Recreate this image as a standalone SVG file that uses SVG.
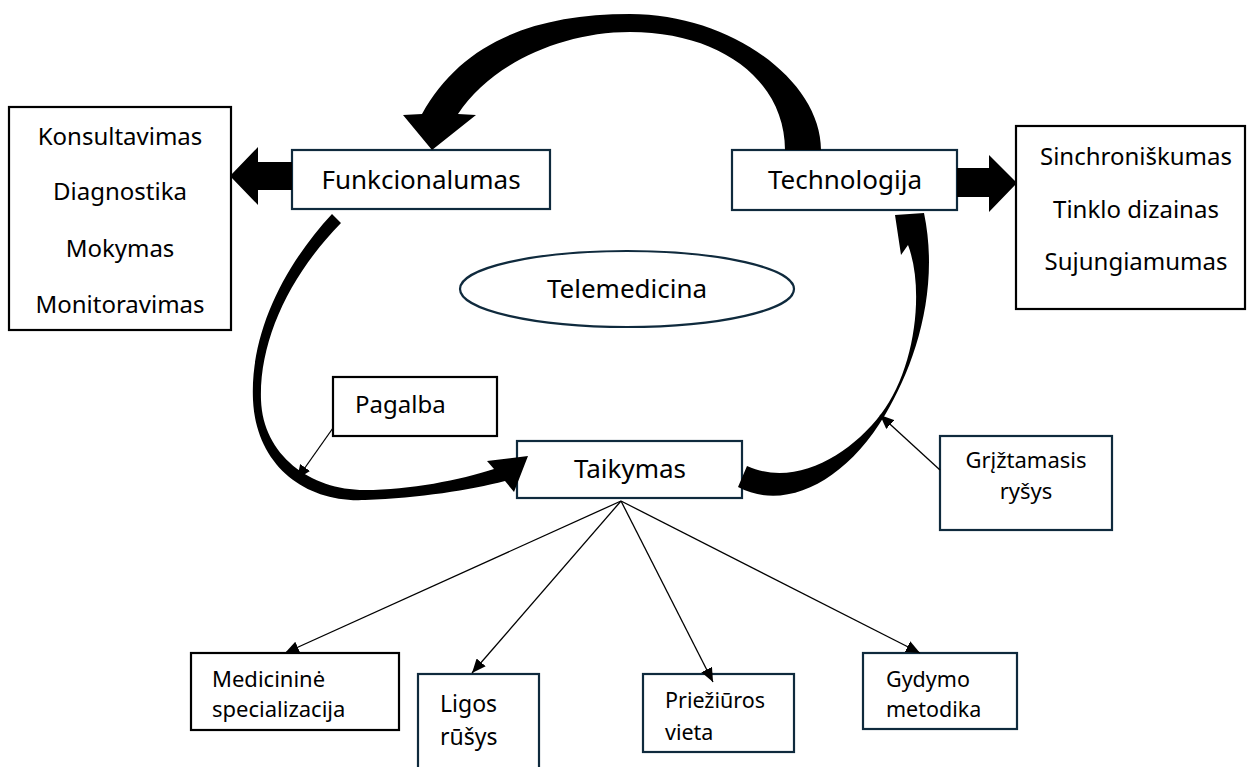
<svg xmlns="http://www.w3.org/2000/svg" width="1251" height="767" viewBox="0 0 1251 767">
<defs>
<style>
.t{font-family:"Noto Sans","Open Sans","Liberation Sans",sans-serif;fill:#000;}
.big{font-size:26px;}
.lst{font-size:24px;text-anchor:middle;}
.nb{fill:#fff;stroke:#0f2a3d;stroke-width:2.2;}
.kb{fill:#fff;stroke:#000;stroke-width:2.2;}
.thin{fill:none;stroke:#000;stroke-width:1.3;marker-end:url(#ah);}
.blk{fill:#000;stroke:none;}
</style>
<marker id="ah" viewBox="0 0 14 12" refX="14" refY="6" markerWidth="14" markerHeight="12" markerUnits="userSpaceOnUse" orient="auto">
<path d="M0,0 L14,6 L0,12 Z" fill="#000"/>
</marker>
</defs>
<rect width="1251" height="767" fill="#fff"/>

<g id="node-list-left">
<rect class="kb" x="9" y="107" width="222" height="223"/>
<text class="t lst" x="120" y="145">Konsultavimas</text>
<text class="t lst" x="120" y="200">Diagnostika</text>
<text class="t lst" x="120" y="257">Mokymas</text>
<text class="t lst" x="120" y="313">Monitoravimas</text>
</g>

<g id="node-funkcionalumas">
<rect class="nb" x="292" y="150" width="258" height="59"/>
<text class="t big" x="421" y="189" text-anchor="middle">Funkcionalumas</text>
</g>

<g id="node-technologija">
<rect class="nb" x="732" y="150" width="225" height="60"/>
<text class="t big" x="845" y="189" text-anchor="middle">Technologija</text>
</g>

<g id="node-list-right">
<rect class="kb" x="1016" y="126" width="229" height="183" stroke-width="2.5"/>
<text class="t lst" x="1136" y="165">Sinchroniškumas</text>
<text class="t lst" x="1136" y="218">Tinklo dizainas</text>
<text class="t lst" x="1136" y="270">Sujungiamumas</text>
</g>

<g id="node-telemedicina">
<ellipse cx="627" cy="289" rx="167" ry="38" fill="#fff" stroke="#0f2a3d" stroke-width="2.2"/>
<text class="t big" x="627" y="298" text-anchor="middle">Telemedicina</text>
</g>

<g id="node-pagalba">
<rect class="kb" x="333" y="377" width="164" height="59"/>
<text class="t" x="355" y="413" font-size="24">Pagalba</text>
</g>

<g id="node-taikymas">
<rect class="nb" x="517" y="441" width="225" height="57"/>
<text class="t big" x="630" y="478" text-anchor="middle">Taikymas</text>
</g>

<g id="node-griztamasis">
<rect class="nb" x="940" y="436" width="172" height="94"/>
<text class="t" x="1026" y="468" font-size="22" text-anchor="middle">Grįžtamasis</text>
<text class="t" x="1026" y="499" font-size="22" text-anchor="middle">ryšys</text>
</g>

<g id="node-medicinine">
<rect class="kb" x="191" y="653" width="208" height="77" stroke-width="3"/>
<text class="t" x="212" y="687" font-size="22">Medicininė</text>
<text class="t" x="212" y="717" font-size="22">specializacija</text>
</g>

<g id="node-ligos">
<rect class="nb" x="418" y="674" width="121" height="100"/>
<text class="t" x="440" y="712" font-size="23">Ligos</text>
<text class="t" x="440" y="745" font-size="23">rūšys</text>
</g>

<g id="node-prieziuros">
<rect class="nb" x="643" y="674" width="151" height="78"/>
<text class="t" x="665" y="708" font-size="21.5">Priežiūros</text>
<text class="t" x="665" y="740" font-size="21.5">vieta</text>
</g>

<g id="node-gydymo">
<rect class="nb" x="863" y="653" width="154" height="76"/>
<text class="t" x="886" y="687" font-size="21.5">Gydymo</text>
<text class="t" x="886" y="717" font-size="21.5">metodika</text>
</g>

<g id="connectors">
<polygon class="blk" points="292,162 258,162 258,147 230,176 258,205 258,190 292,190"/>
<polygon class="blk" points="957,168 989,168 989,155 1017,183 989,212 989,197 957,197"/>
<path class="blk" d="M821,150 C821,80 730,14 630,14 C530,14 460,45 422,114 L403,115 L432,150 L476,115 L458,114 C490,65 560,32 630,32 C720,32 785,80 785,150 Z"/>
<path class="blk" d="M332,214 C282,268 250,335 253,400 C256,465 305,503 365,500 C420,498 470,490 505,481 L514,492 L528,456 L487,461 L494,469 C460,480 410,490 365,490 C310,490 263,455 261,400 C259,340 290,275 341,223 Z"/>
<path class="blk" d="M738,487 C785,512 845,482 885,415 C915,365 940,290 924,213 L895,215 L901,255 L908,245 C925,290 915,370 881,414 C850,455 795,488 747,466 Z"/>
<line class="thin" x1="333" y1="428" x2="297" y2="479"/>
<line class="thin" x1="940" y1="470" x2="880" y2="415"/>
<line class="thin" x1="621" y1="501" x2="285" y2="653"/>
<line class="thin" x1="621" y1="501" x2="472" y2="673"/>
<line class="thin" x1="621" y1="501" x2="713" y2="682"/>
<line class="thin" x1="621" y1="501" x2="920" y2="653"/>
</g>
</svg>
